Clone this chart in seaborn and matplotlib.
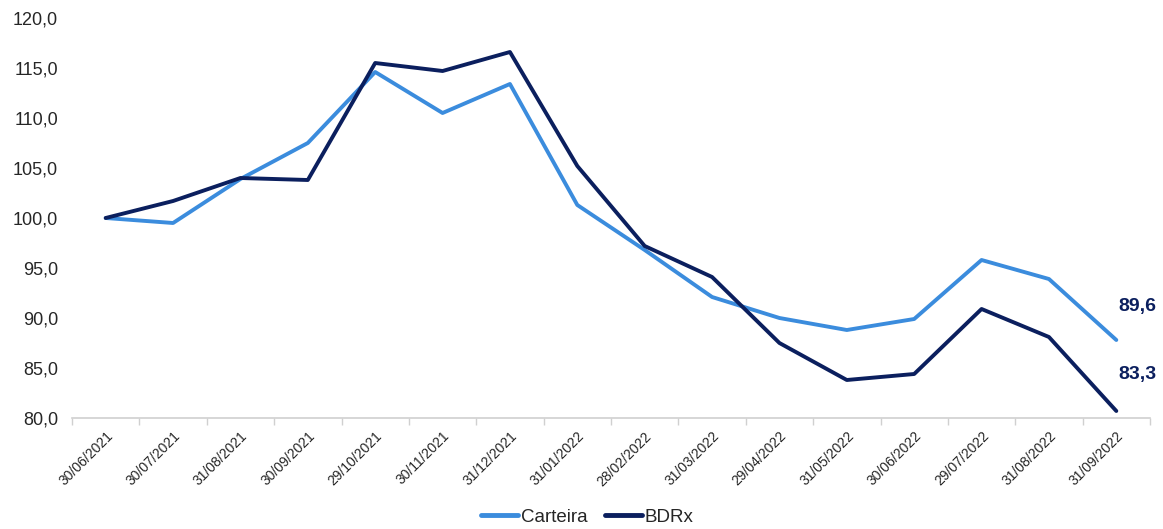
import matplotlib
matplotlib.use("Agg")
import matplotlib.pyplot as plt
import seaborn as sns
import pandas as pd
import numpy as np

dates = ["30/06/2021", "30/07/2021", "31/08/2021", "30/09/2021", "29/10/2021", "30/11/2021",
         "31/12/2021", "31/01/2022", "28/02/2022", "31/03/2022", "29/04/2022", "31/05/2022",
         "30/06/2022", "29/07/2022", "31/08/2022", "31/09/2022"]
carteira = [100.0, 99.5, 103.9, 107.5, 114.6, 110.5, 113.4, 101.3, 96.8, 92.1, 90.0, 88.8,
            89.9, 95.8, 93.9, 87.8]
bdrx = [100.0, 101.7, 104.0, 103.8, 115.5, 114.7, 116.6, 105.2, 97.2, 94.1, 87.5, 83.8,
        84.4, 90.9, 88.1, 80.7]
end_labels = ["89,6", "83,3"]
yticks = [80, 85, 90, 95, 100, 105, 110, 115, 120]

sns.set_theme(style="white")
plt.rcParams['font.family'] = ['Liberation Sans', 'DejaVu Sans']

c_cart = "#3B8CDD"
c_bdrx = "#0B1F5E"

df = pd.DataFrame({
    "x": list(range(len(dates))) * 2,
    "valor": carteira + bdrx,
    "serie": ["Carteira"] * len(dates) + ["BDRx"] * len(dates),
})

fig = plt.figure(figsize=(11.63, 5.29), dpi=100)
ax = fig.add_axes([72 / 1163, 1 - 418 / 529, (1150 - 72) / 1163, 400 / 529])
sns.lineplot(data=df, x="x", y="valor", hue="serie", palette={"Carteira": c_cart, "BDRx": c_bdrx},
             linewidth=2.8, ax=ax, legend=True)

n = len(dates)
ax.set_xlim(-0.5, n - 0.5)
ax.set_ylim(80, 120)
ax.set_yticks(yticks)
ax.set_yticklabels([f"{v:.1f}".replace(".", ",") for v in yticks], fontsize=13)
ax.set_xticks(range(n))
ax.set_xticklabels(dates, rotation=45, ha="right", rotation_mode="anchor", fontsize=10)
ax.set_xticks(np.arange(-0.5, n, 1), minor=True)
ax.tick_params(axis="x", which="major", length=0, pad=8)
ax.tick_params(axis="x", which="minor", length=5, color="#D0D0D0", width=1, direction="out", bottom=True)
ax.tick_params(axis="y", length=0, pad=10)
ax.set_xlabel("")
ax.set_ylabel("")
for s in ["top", "right", "left"]:
    ax.spines[s].set_visible(False)
ax.spines["bottom"].set_color("#D0D0D0")
ax.spines["bottom"].set_linewidth(1.2)

ax.text(n - 1 + 0.03, 91.1, end_labels[0], color=c_bdrx, fontsize=14, fontweight="bold",
        ha="left", va="center")
ax.text(n - 1 + 0.03, 84.3, end_labels[1], color=c_bdrx, fontsize=14, fontweight="bold",
        ha="left", va="center")

handles, labels = ax.get_legend_handles_labels()
leg = fig.legend(handles, labels, loc="center", bbox_to_anchor=(0.505, 1 - 517 / 529), ncol=2,
                 frameon=False, fontsize=13.5, handlelength=2.0, handletextpad=0.15, columnspacing=0.9)
for h in leg.get_lines():
    h.set_linewidth(3.5)
ax.get_legend().remove() if ax.get_legend() else None

fig.savefig("out.png", dpi=100)
